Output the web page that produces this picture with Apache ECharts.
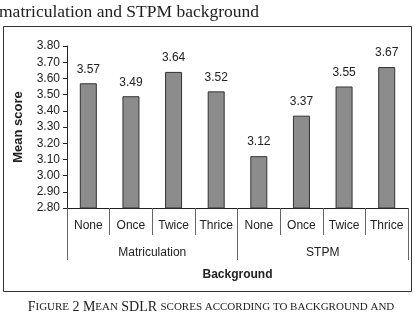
<!DOCTYPE html>
<html>
<head>
<meta charset="utf-8">
<script src="https://cdn.jsdelivr.net/npm/echarts@6/dist/echarts.min.js"></script>
<style>
  html, body { margin: 0; padding: 0; background: #fff; }
  #chart { width: 415px; height: 324px; }
</style>
</head>
<body>
<div id="chart"></div>
<script>
// data
var exposure = ["None", "Once", "Twice", "Thrice", "None", "Once", "Twice", "Thrice"];
var groups = ["Matriculation", "STPM"];
var meanScore = [3.57, 3.49, 3.64, 3.52, 3.12, 3.37, 3.55, 3.67];

var FONT = "Liberation Sans";

var myChart = echarts.init(document.getElementById("chart"), null, { renderer: "canvas" });

var option = {
  animation: false,
  grid: { left: 67, right: 7, top: 46, bottom: 116 },
  xAxis: [
    {
      type: "category",
      data: exposure,
      boundaryGap: true,
      axisLine: { show: true, lineStyle: { color: "#222", width: 1 } },
      axisTick: { show: true, interval: 0, alignWithLabel: false, length: 27, lineStyle: { color: "#666" } },
      axisLabel: { color: "#222", fontFamily: FONT, fontSize: 12, margin: 12, interval: 0 }
    },
    {
      type: "category",
      position: "bottom",
      data: groups,
      boundaryGap: true,
      axisLine: { show: false },
      axisTick: { show: true, interval: 0, alignWithLabel: false, length: 52, lineStyle: { color: "#666" } },
      axisLabel: { color: "#222", fontFamily: FONT, fontSize: 12, margin: 39, interval: 0 },
      name: "Background",
      nameLocation: "middle",
      nameGap: 61,
      nameTextStyle: { color: "#222", fontFamily: FONT, fontSize: 12, fontWeight: "bold" }
    }
  ],
  yAxis: {
    type: "value",
    min: 2.8,
    max: 3.8,
    interval: 0.1,
    name: "Mean score",
    nameLocation: "middle",
    nameGap: 42,
    nameTextStyle: { color: "#222", fontFamily: FONT, fontSize: 13, fontWeight: "bold" },
    axisLine: { show: true, lineStyle: { color: "#222" } },
    axisTick: { show: true, length: 4, lineStyle: { color: "#222" } },
    splitLine: { show: false },
    axisLabel: {
      color: "#222", fontFamily: FONT, fontSize: 12, margin: 7,
      formatter: function (v) { return v.toFixed(2); }
    }
  },
  series: [
    {
      type: "bar",
      xAxisIndex: 0,
      data: meanScore,
      barWidth: 17,
      itemStyle: { color: "#8c8c8c", borderColor: "#333", borderWidth: 1 },
      label: {
        show: true, position: "top", distance: 8,
        color: "#222", fontFamily: FONT, fontSize: 12,
        formatter: function (p) { return p.value.toFixed(2); }
      }
    }
  ],
  graphic: [
    {
      type: "rect",
      shape: { x: 3.5, y: 26.5, width: 408, height: 265 },
      style: { fill: "none", stroke: "#333", lineWidth: 1 },
      silent: true
    },
    {
      type: "text",
      left: -1, top: 3,
      style: { text: "matriculation and STPM background", font: "17.5px 'Liberation Serif'", fill: "#222" }
    },
    {
      type: "text",
      x: 211, y: 307,
      style: {
        text: "{b|F}{s|IGURE} {b|2 M}{s|EAN} {b|SDLR} {s|SCORES ACCORDING TO BACKGROUND AND}",
        align: "center", verticalAlign: "middle",
        rich: {
          b: { fontFamily: "Liberation Serif", fontSize: 14, fill: "#222" },
          s: { fontFamily: "Liberation Serif", fontSize: 11, fill: "#222" }
        }
      }
    },
    {
      type: "text",
      x: 211, y: 329,
      style: { text: "EXPOSURE", font: "11px 'Liberation Serif'", fill: "#222", align: "center", verticalAlign: "middle" }
    }
  ]
};

myChart.setOption(option);
</script>
</body>
</html>
